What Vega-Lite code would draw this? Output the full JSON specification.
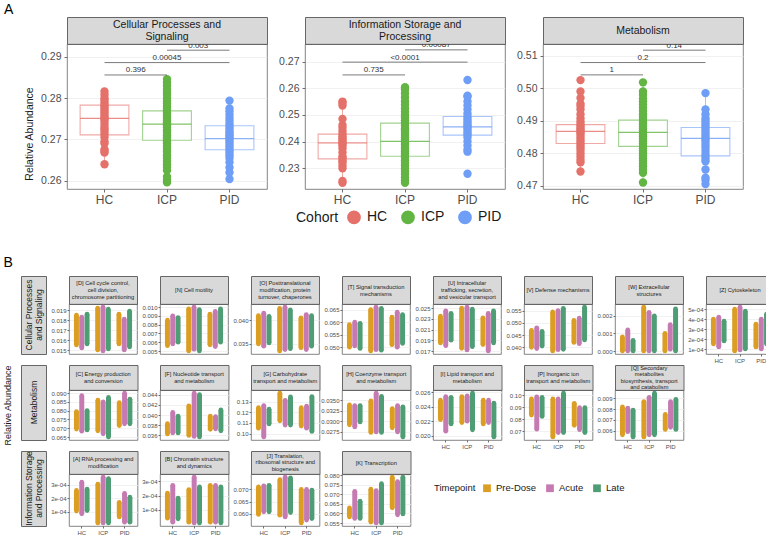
{
"$schema":"https://vega.github.io/schema/vega-lite/v6.json",
"padding":{"left":3,"top":2,"right":4,"bottom":2},
"spacing":49,
"config":{
 "font":"Liberation Sans",
 "view":{"stroke":"#666","strokeWidth":0.8},
 "axis":{"domain":false,"labelOverlap":false,"gridColor":"#EBEBEB","gridWidth":0.7,"tickColor":"#333","tickWidth":0.7,"labelColor":"#4D4D4D","titleFontWeight":"normal","titleColor":"#1A1A1A"},
 "title":{"fontWeight":"normal","color":"#000"}
},
"datasets":{
"abox":[
{"f":"CPS","c":"HC","lo":0.2640,"q1":0.2711,"med":0.2751,"q3":0.2783,"hi":0.2816},
{"f":"CPS","c":"ICP","lo":0.2596,"q1":0.2698,"med":0.2737,"q3":0.2769,"hi":0.2846},
{"f":"CPS","c":"PID","lo":0.2604,"q1":0.2675,"med":0.2702,"q3":0.2733,"hi":0.2794},
{"f":"ISP","c":"HC","lo":0.2245,"q1":0.2335,"med":0.2395,"q3":0.2428,"hi":0.2550},
{"f":"ISP","c":"ICP","lo":0.2245,"q1":0.2345,"med":0.2401,"q3":0.2469,"hi":0.2604},
{"f":"ISP","c":"PID","lo":0.2362,"q1":0.2424,"med":0.2455,"q3":0.2494,"hi":0.2572},
{"f":"MET","c":"HC","lo":0.4744,"q1":0.4830,"med":0.4867,"q3":0.4888,"hi":0.4970},
{"f":"MET","c":"ICP","lo":0.4710,"q1":0.4821,"med":0.4864,"q3":0.4902,"hi":0.5018},
{"f":"MET","c":"PID","lo":0.4705,"q1":0.4792,"med":0.4846,"q3":0.4879,"hi":0.4985}
],
"abr":[
{"f":"CPS","g1":"HC","g2":"ICP","y":0.2856,"lab":"0.396"},
{"f":"CPS","g1":"HC","g2":"PID","y":0.2886,"lab":"0.00045"},
{"f":"CPS","g1":"ICP","g2":"PID","y":0.2916,"lab":"0.003"},
{"f":"ISP","g1":"HC","g2":"ICP","y":0.2650,"lab":"0.735"},
{"f":"ISP","g1":"HC","g2":"PID","y":0.2698,"lab":"<0.0001"},
{"f":"ISP","g1":"ICP","g2":"PID","y":0.2744,"lab":"0.00087"},
{"f":"MET","g1":"HC","g2":"ICP","y":0.5041,"lab":"1"},
{"f":"MET","g1":"HC","g2":"PID","y":0.5079,"lab":"0.2"},
{"f":"MET","g1":"ICP","g2":"PID","y":0.5117,"lab":"0.14"}
],
"apts":[
{"f":"CPS","c":"HC","v":0.2640},{"f":"CPS","c":"HC","v":0.2668},{"f":"CPS","c":"HC","v":0.2672},{"f":"CPS","c":"HC","v":0.2676},{"f":"CPS","c":"HC","v":0.2690},{"f":"CPS","c":"HC","v":0.2695},{"f":"CPS","c":"HC","v":0.2705},{"f":"CPS","c":"HC","v":0.2712},{"f":"CPS","c":"HC","v":0.2718},{"f":"CPS","c":"HC","v":0.2724},{"f":"CPS","c":"HC","v":0.2728},{"f":"CPS","c":"HC","v":0.2735},{"f":"CPS","c":"HC","v":0.2742},{"f":"CPS","c":"HC","v":0.2748},{"f":"CPS","c":"HC","v":0.2751},{"f":"CPS","c":"HC","v":0.2755},{"f":"CPS","c":"HC","v":0.2760},{"f":"CPS","c":"HC","v":0.2765},{"f":"CPS","c":"HC","v":0.2770},{"f":"CPS","c":"HC","v":0.2775},{"f":"CPS","c":"HC","v":0.2780},{"f":"CPS","c":"HC","v":0.2784},{"f":"CPS","c":"HC","v":0.2790},{"f":"CPS","c":"HC","v":0.2796},{"f":"CPS","c":"HC","v":0.2800},{"f":"CPS","c":"HC","v":0.2808},{"f":"CPS","c":"HC","v":0.2816},
{"f":"CPS","c":"ICP","v":0.2596},{"f":"CPS","c":"ICP","v":0.2602},{"f":"CPS","c":"ICP","v":0.2610},{"f":"CPS","c":"ICP","v":0.2625},{"f":"CPS","c":"ICP","v":0.2633},{"f":"CPS","c":"ICP","v":0.2640},{"f":"CPS","c":"ICP","v":0.2648},{"f":"CPS","c":"ICP","v":0.2655},{"f":"CPS","c":"ICP","v":0.2662},{"f":"CPS","c":"ICP","v":0.2670},{"f":"CPS","c":"ICP","v":0.2677},{"f":"CPS","c":"ICP","v":0.2683},{"f":"CPS","c":"ICP","v":0.2690},{"f":"CPS","c":"ICP","v":0.2695},{"f":"CPS","c":"ICP","v":0.2700},{"f":"CPS","c":"ICP","v":0.2705},{"f":"CPS","c":"ICP","v":0.2710},{"f":"CPS","c":"ICP","v":0.2716},{"f":"CPS","c":"ICP","v":0.2722},{"f":"CPS","c":"ICP","v":0.2728},{"f":"CPS","c":"ICP","v":0.2733},{"f":"CPS","c":"ICP","v":0.2737},{"f":"CPS","c":"ICP","v":0.2741},{"f":"CPS","c":"ICP","v":0.2745},{"f":"CPS","c":"ICP","v":0.2750},{"f":"CPS","c":"ICP","v":0.2755},{"f":"CPS","c":"ICP","v":0.2760},{"f":"CPS","c":"ICP","v":0.2765},{"f":"CPS","c":"ICP","v":0.2770},{"f":"CPS","c":"ICP","v":0.2775},{"f":"CPS","c":"ICP","v":0.2780},{"f":"CPS","c":"ICP","v":0.2787},{"f":"CPS","c":"ICP","v":0.2793},{"f":"CPS","c":"ICP","v":0.2800},{"f":"CPS","c":"ICP","v":0.2808},{"f":"CPS","c":"ICP","v":0.2815},{"f":"CPS","c":"ICP","v":0.2822},{"f":"CPS","c":"ICP","v":0.2830},{"f":"CPS","c":"ICP","v":0.2838},{"f":"CPS","c":"ICP","v":0.2846},
{"f":"CPS","c":"PID","v":0.2604},{"f":"CPS","c":"PID","v":0.2620},{"f":"CPS","c":"PID","v":0.2632},{"f":"CPS","c":"PID","v":0.2645},{"f":"CPS","c":"PID","v":0.2655},{"f":"CPS","c":"PID","v":0.2662},{"f":"CPS","c":"PID","v":0.2668},{"f":"CPS","c":"PID","v":0.2674},{"f":"CPS","c":"PID","v":0.2680},{"f":"CPS","c":"PID","v":0.2686},{"f":"CPS","c":"PID","v":0.2692},{"f":"CPS","c":"PID","v":0.2697},{"f":"CPS","c":"PID","v":0.2702},{"f":"CPS","c":"PID","v":0.2706},{"f":"CPS","c":"PID","v":0.2710},{"f":"CPS","c":"PID","v":0.2715},{"f":"CPS","c":"PID","v":0.2720},{"f":"CPS","c":"PID","v":0.2726},{"f":"CPS","c":"PID","v":0.2732},{"f":"CPS","c":"PID","v":0.2738},{"f":"CPS","c":"PID","v":0.2745},{"f":"CPS","c":"PID","v":0.2752},{"f":"CPS","c":"PID","v":0.2760},{"f":"CPS","c":"PID","v":0.2768},{"f":"CPS","c":"PID","v":0.2775},{"f":"CPS","c":"PID","v":0.2794},
{"f":"ISP","c":"HC","v":0.2245},{"f":"ISP","c":"HC","v":0.2252},{"f":"ISP","c":"HC","v":0.2300},{"f":"ISP","c":"HC","v":0.2310},{"f":"ISP","c":"HC","v":0.2322},{"f":"ISP","c":"HC","v":0.2330},{"f":"ISP","c":"HC","v":0.2338},{"f":"ISP","c":"HC","v":0.2345},{"f":"ISP","c":"HC","v":0.2360},{"f":"ISP","c":"HC","v":0.2375},{"f":"ISP","c":"HC","v":0.2385},{"f":"ISP","c":"HC","v":0.2392},{"f":"ISP","c":"HC","v":0.2398},{"f":"ISP","c":"HC","v":0.2405},{"f":"ISP","c":"HC","v":0.2412},{"f":"ISP","c":"HC","v":0.2420},{"f":"ISP","c":"HC","v":0.2428},{"f":"ISP","c":"HC","v":0.2440},{"f":"ISP","c":"HC","v":0.2452},{"f":"ISP","c":"HC","v":0.2462},{"f":"ISP","c":"HC","v":0.2485},{"f":"ISP","c":"HC","v":0.2535},{"f":"ISP","c":"HC","v":0.2545},{"f":"ISP","c":"HC","v":0.2550},
{"f":"ISP","c":"ICP","v":0.2245},{"f":"ISP","c":"ICP","v":0.2255},{"f":"ISP","c":"ICP","v":0.2265},{"f":"ISP","c":"ICP","v":0.2278},{"f":"ISP","c":"ICP","v":0.2290},{"f":"ISP","c":"ICP","v":0.2300},{"f":"ISP","c":"ICP","v":0.2310},{"f":"ISP","c":"ICP","v":0.2320},{"f":"ISP","c":"ICP","v":0.2330},{"f":"ISP","c":"ICP","v":0.2340},{"f":"ISP","c":"ICP","v":0.2348},{"f":"ISP","c":"ICP","v":0.2356},{"f":"ISP","c":"ICP","v":0.2364},{"f":"ISP","c":"ICP","v":0.2372},{"f":"ISP","c":"ICP","v":0.2380},{"f":"ISP","c":"ICP","v":0.2388},{"f":"ISP","c":"ICP","v":0.2395},{"f":"ISP","c":"ICP","v":0.2401},{"f":"ISP","c":"ICP","v":0.2408},{"f":"ISP","c":"ICP","v":0.2416},{"f":"ISP","c":"ICP","v":0.2425},{"f":"ISP","c":"ICP","v":0.2433},{"f":"ISP","c":"ICP","v":0.2442},{"f":"ISP","c":"ICP","v":0.2450},{"f":"ISP","c":"ICP","v":0.2460},{"f":"ISP","c":"ICP","v":0.2470},{"f":"ISP","c":"ICP","v":0.2480},{"f":"ISP","c":"ICP","v":0.2490},{"f":"ISP","c":"ICP","v":0.2500},{"f":"ISP","c":"ICP","v":0.2512},{"f":"ISP","c":"ICP","v":0.2525},{"f":"ISP","c":"ICP","v":0.2538},{"f":"ISP","c":"ICP","v":0.2550},{"f":"ISP","c":"ICP","v":0.2565},{"f":"ISP","c":"ICP","v":0.2580},{"f":"ISP","c":"ICP","v":0.2595},{"f":"ISP","c":"ICP","v":0.2604},
{"f":"ISP","c":"PID","v":0.2279},{"f":"ISP","c":"PID","v":0.2362},{"f":"ISP","c":"PID","v":0.2370},{"f":"ISP","c":"PID","v":0.2385},{"f":"ISP","c":"PID","v":0.2400},{"f":"ISP","c":"PID","v":0.2415},{"f":"ISP","c":"PID","v":0.2425},{"f":"ISP","c":"PID","v":0.2432},{"f":"ISP","c":"PID","v":0.2440},{"f":"ISP","c":"PID","v":0.2448},{"f":"ISP","c":"PID","v":0.2455},{"f":"ISP","c":"PID","v":0.2460},{"f":"ISP","c":"PID","v":0.2468},{"f":"ISP","c":"PID","v":0.2476},{"f":"ISP","c":"PID","v":0.2485},{"f":"ISP","c":"PID","v":0.2494},{"f":"ISP","c":"PID","v":0.2505},{"f":"ISP","c":"PID","v":0.2520},{"f":"ISP","c":"PID","v":0.2535},{"f":"ISP","c":"PID","v":0.2550},{"f":"ISP","c":"PID","v":0.2568},{"f":"ISP","c":"PID","v":0.2572},{"f":"ISP","c":"PID","v":0.2631},
{"f":"MET","c":"HC","v":0.4744},{"f":"MET","c":"HC","v":0.4772},{"f":"MET","c":"HC","v":0.4780},{"f":"MET","c":"HC","v":0.4790},{"f":"MET","c":"HC","v":0.4800},{"f":"MET","c":"HC","v":0.4810},{"f":"MET","c":"HC","v":0.4818},{"f":"MET","c":"HC","v":0.4825},{"f":"MET","c":"HC","v":0.4832},{"f":"MET","c":"HC","v":0.4840},{"f":"MET","c":"HC","v":0.4848},{"f":"MET","c":"HC","v":0.4856},{"f":"MET","c":"HC","v":0.4862},{"f":"MET","c":"HC","v":0.4867},{"f":"MET","c":"HC","v":0.4872},{"f":"MET","c":"HC","v":0.4878},{"f":"MET","c":"HC","v":0.4884},{"f":"MET","c":"HC","v":0.4890},{"f":"MET","c":"HC","v":0.4898},{"f":"MET","c":"HC","v":0.4908},{"f":"MET","c":"HC","v":0.4920},{"f":"MET","c":"HC","v":0.4935},{"f":"MET","c":"HC","v":0.4945},{"f":"MET","c":"HC","v":0.4952},{"f":"MET","c":"HC","v":0.4970},{"f":"MET","c":"HC","v":0.4990},{"f":"MET","c":"HC","v":0.5025},
{"f":"MET","c":"ICP","v":0.4710},{"f":"MET","c":"ICP","v":0.4740},{"f":"MET","c":"ICP","v":0.4750},{"f":"MET","c":"ICP","v":0.4760},{"f":"MET","c":"ICP","v":0.4768},{"f":"MET","c":"ICP","v":0.4776},{"f":"MET","c":"ICP","v":0.4784},{"f":"MET","c":"ICP","v":0.4792},{"f":"MET","c":"ICP","v":0.4800},{"f":"MET","c":"ICP","v":0.4808},{"f":"MET","c":"ICP","v":0.4815},{"f":"MET","c":"ICP","v":0.4822},{"f":"MET","c":"ICP","v":0.4830},{"f":"MET","c":"ICP","v":0.4838},{"f":"MET","c":"ICP","v":0.4845},{"f":"MET","c":"ICP","v":0.4852},{"f":"MET","c":"ICP","v":0.4858},{"f":"MET","c":"ICP","v":0.4864},{"f":"MET","c":"ICP","v":0.4870},{"f":"MET","c":"ICP","v":0.4876},{"f":"MET","c":"ICP","v":0.4882},{"f":"MET","c":"ICP","v":0.4890},{"f":"MET","c":"ICP","v":0.4897},{"f":"MET","c":"ICP","v":0.4905},{"f":"MET","c":"ICP","v":0.4912},{"f":"MET","c":"ICP","v":0.4920},{"f":"MET","c":"ICP","v":0.4930},{"f":"MET","c":"ICP","v":0.4940},{"f":"MET","c":"ICP","v":0.4950},{"f":"MET","c":"ICP","v":0.4960},{"f":"MET","c":"ICP","v":0.4968},{"f":"MET","c":"ICP","v":0.4980},{"f":"MET","c":"ICP","v":0.4990},{"f":"MET","c":"ICP","v":0.5018},
{"f":"MET","c":"PID","v":0.4705},{"f":"MET","c":"PID","v":0.4718},{"f":"MET","c":"PID","v":0.4725},{"f":"MET","c":"PID","v":0.4750},{"f":"MET","c":"PID","v":0.4775},{"f":"MET","c":"PID","v":0.4782},{"f":"MET","c":"PID","v":0.4790},{"f":"MET","c":"PID","v":0.4798},{"f":"MET","c":"PID","v":0.4808},{"f":"MET","c":"PID","v":0.4818},{"f":"MET","c":"PID","v":0.4826},{"f":"MET","c":"PID","v":0.4835},{"f":"MET","c":"PID","v":0.4842},{"f":"MET","c":"PID","v":0.4848},{"f":"MET","c":"PID","v":0.4855},{"f":"MET","c":"PID","v":0.4862},{"f":"MET","c":"PID","v":0.4870},{"f":"MET","c":"PID","v":0.4878},{"f":"MET","c":"PID","v":0.4885},{"f":"MET","c":"PID","v":0.4892},{"f":"MET","c":"PID","v":0.4900},{"f":"MET","c":"PID","v":0.4908},{"f":"MET","c":"PID","v":0.4920},{"f":"MET","c":"PID","v":0.4935},{"f":"MET","c":"PID","v":0.4985}
],
"b":[
{"p":"D","c":"HC","t":"Pre-Dose","lo":0.0155,"hi":0.0185},{"p":"D","c":"HC","t":"Acute","lo":0.0152,"hi":0.0183},{"p":"D","c":"HC","t":"Late","lo":0.0156,"hi":0.0186},
{"p":"D","c":"ICP","t":"Pre-Dose","lo":0.0150,"hi":0.0192},{"p":"D","c":"ICP","t":"Acute","lo":0.0149,"hi":0.0193},{"p":"D","c":"ICP","t":"Late","lo":0.0151,"hi":0.0191},
{"p":"D","c":"PID","t":"Pre-Dose","lo":0.0156,"hi":0.0186},{"p":"D","c":"PID","t":"Acute","lo":0.0150,"hi":0.0181},{"p":"D","c":"PID","t":"Late","lo":0.0153,"hi":0.0189},
{"p":"N","c":"HC","t":"Pre-Dose","lo":0.0056,"hi":0.0085},{"p":"N","c":"HC","t":"Acute","lo":0.0058,"hi":0.0090},{"p":"N","c":"HC","t":"Late","lo":0.0060,"hi":0.0088},
{"p":"N","c":"ICP","t":"Pre-Dose","lo":0.0050,"hi":0.0098},{"p":"N","c":"ICP","t":"Acute","lo":0.0052,"hi":0.0100},{"p":"N","c":"ICP","t":"Late","lo":0.0050,"hi":0.0097},
{"p":"N","c":"PID","t":"Pre-Dose","lo":0.0057,"hi":0.0092},{"p":"N","c":"PID","t":"Acute","lo":0.0055,"hi":0.0095},{"p":"N","c":"PID","t":"Late","lo":0.0060,"hi":0.0098},
{"p":"O","c":"HC","t":"Pre-Dose","lo":0.0350,"hi":0.0410},{"p":"O","c":"HC","t":"Acute","lo":0.0345,"hi":0.0415},{"p":"O","c":"HC","t":"Late","lo":0.0352,"hi":0.0408},
{"p":"O","c":"ICP","t":"Pre-Dose","lo":0.0335,"hi":0.0425},{"p":"O","c":"ICP","t":"Acute","lo":0.0338,"hi":0.0428},{"p":"O","c":"ICP","t":"Late","lo":0.0340,"hi":0.0422},
{"p":"O","c":"PID","t":"Pre-Dose","lo":0.0342,"hi":0.0405},{"p":"O","c":"PID","t":"Acute","lo":0.0338,"hi":0.0412},{"p":"O","c":"PID","t":"Late","lo":0.0345,"hi":0.0410},
{"p":"T","c":"HC","t":"Pre-Dose","lo":0.0500,"hi":0.0590},{"p":"T","c":"HC","t":"Acute","lo":0.0505,"hi":0.0600},{"p":"T","c":"HC","t":"Late","lo":0.0495,"hi":0.0595},
{"p":"T","c":"ICP","t":"Pre-Dose","lo":0.0485,"hi":0.0650},{"p":"T","c":"ICP","t":"Acute","lo":0.0490,"hi":0.0660},{"p":"T","c":"ICP","t":"Late","lo":0.0488,"hi":0.0655},
{"p":"T","c":"PID","t":"Pre-Dose","lo":0.0510,"hi":0.0620},{"p":"T","c":"PID","t":"Acute","lo":0.0500,"hi":0.0640},{"p":"T","c":"PID","t":"Late","lo":0.0515,"hi":0.0630},
{"p":"U","c":"HC","t":"Pre-Dose","lo":0.0185,"hi":0.0235},{"p":"U","c":"HC","t":"Acute","lo":0.0180,"hi":0.0245},{"p":"U","c":"HC","t":"Late","lo":0.0190,"hi":0.0240},
{"p":"U","c":"ICP","t":"Pre-Dose","lo":0.0175,"hi":0.0250},{"p":"U","c":"ICP","t":"Acute","lo":0.0172,"hi":0.0252},{"p":"U","c":"ICP","t":"Late","lo":0.0178,"hi":0.0248},
{"p":"U","c":"PID","t":"Pre-Dose","lo":0.0182,"hi":0.0232},{"p":"U","c":"PID","t":"Acute","lo":0.0170,"hi":0.0240},{"p":"U","c":"PID","t":"Late","lo":0.0185,"hi":0.0245},
{"p":"V","c":"HC","t":"Pre-Dose","lo":0.0400,"hi":0.0470},{"p":"V","c":"HC","t":"Acute","lo":0.0395,"hi":0.0480},{"p":"V","c":"HC","t":"Late","lo":0.0405,"hi":0.0465},
{"p":"V","c":"ICP","t":"Pre-Dose","lo":0.0385,"hi":0.0545},{"p":"V","c":"ICP","t":"Acute","lo":0.0390,"hi":0.0550},{"p":"V","c":"ICP","t":"Late","lo":0.0392,"hi":0.0560},
{"p":"V","c":"PID","t":"Pre-Dose","lo":0.0420,"hi":0.0510},{"p":"V","c":"PID","t":"Acute","lo":0.0415,"hi":0.0520},{"p":"V","c":"PID","t":"Late","lo":0.0430,"hi":0.0565},
{"p":"W","c":"HC","t":"Pre-Dose","lo":0.0000,"hi":0.0008},{"p":"W","c":"HC","t":"Acute","lo":0.0000,"hi":0.0012},{"p":"W","c":"HC","t":"Late","lo":0.0000,"hi":0.0006},
{"p":"W","c":"ICP","t":"Pre-Dose","lo":0.0000,"hi":0.0025},{"p":"W","c":"ICP","t":"Acute","lo":0.0000,"hi":0.0022},{"p":"W","c":"ICP","t":"Late","lo":0.0000,"hi":0.0020},
{"p":"W","c":"PID","t":"Pre-Dose","lo":0.0000,"hi":0.0010},{"p":"W","c":"PID","t":"Acute","lo":0.0001,"hi":0.0015},{"p":"W","c":"PID","t":"Late","lo":0.0000,"hi":0.0024},
{"p":"Z","c":"HC","t":"Pre-Dose","lo":0.00015,"hi":0.00040},{"p":"Z","c":"HC","t":"Acute","lo":0.00012,"hi":0.00042},{"p":"Z","c":"HC","t":"Late","lo":0.00018,"hi":0.00038},
{"p":"Z","c":"ICP","t":"Pre-Dose","lo":0.00008,"hi":0.00050},{"p":"Z","c":"ICP","t":"Acute","lo":0.00009,"hi":0.00052},{"p":"Z","c":"ICP","t":"Late","lo":0.00010,"hi":0.00048},
{"p":"Z","c":"PID","t":"Pre-Dose","lo":0.00012,"hi":0.00035},{"p":"Z","c":"PID","t":"Acute","lo":0.00010,"hi":0.00040},{"p":"Z","c":"PID","t":"Late","lo":0.00015,"hi":0.00045},
{"p":"C","c":"HC","t":"Pre-Dose","lo":0.0695,"hi":0.0795},{"p":"C","c":"HC","t":"Acute","lo":0.0683,"hi":0.0885},{"p":"C","c":"HC","t":"Late","lo":0.0690,"hi":0.0800},
{"p":"C","c":"ICP","t":"Pre-Dose","lo":0.0685,"hi":0.0860},{"p":"C","c":"ICP","t":"Acute","lo":0.0668,"hi":0.0850},{"p":"C","c":"ICP","t":"Late","lo":0.0650,"hi":0.0875},
{"p":"C","c":"PID","t":"Pre-Dose","lo":0.0715,"hi":0.0845},{"p":"C","c":"PID","t":"Acute","lo":0.0725,"hi":0.0900},{"p":"C","c":"PID","t":"Late","lo":0.0725,"hi":0.0865},
{"p":"F","c":"HC","t":"Pre-Dose","lo":0.0363,"hi":0.0383},{"p":"F","c":"HC","t":"Acute","lo":0.0365,"hi":0.0405},{"p":"F","c":"HC","t":"Late","lo":0.0365,"hi":0.0398},
{"p":"F","c":"ICP","t":"Pre-Dose","lo":0.0360,"hi":0.0418},{"p":"F","c":"ICP","t":"Acute","lo":0.0358,"hi":0.0443},{"p":"F","c":"ICP","t":"Late","lo":0.0357,"hi":0.0440},
{"p":"F","c":"PID","t":"Pre-Dose","lo":0.0372,"hi":0.0398},{"p":"F","c":"PID","t":"Acute","lo":0.0373,"hi":0.0397},{"p":"F","c":"PID","t":"Late","lo":0.0369,"hi":0.0410},
{"p":"G","c":"HC","t":"Pre-Dose","lo":0.105,"hi":0.1244},{"p":"G","c":"HC","t":"Acute","lo":0.0967,"hi":0.1264},{"p":"G","c":"HC","t":"Late","lo":0.109,"hi":0.123},
{"p":"G","c":"ICP","t":"Pre-Dose","lo":0.112,"hi":0.1383},{"p":"G","c":"ICP","t":"Acute","lo":0.108,"hi":0.1314},{"p":"G","c":"ICP","t":"Late","lo":0.108,"hi":0.1347},
{"p":"G","c":"PID","t":"Pre-Dose","lo":0.107,"hi":0.1244},{"p":"G","c":"PID","t":"Acute","lo":0.105,"hi":0.126},{"p":"G","c":"PID","t":"Late","lo":0.102,"hi":0.135},
{"p":"H","c":"HC","t":"Pre-Dose","lo":0.0291,"hi":0.0339},{"p":"H","c":"HC","t":"Acute","lo":0.0286,"hi":0.0337},{"p":"H","c":"HC","t":"Late","lo":0.0298,"hi":0.0337},
{"p":"H","c":"ICP","t":"Pre-Dose","lo":0.0273,"hi":0.0348},{"p":"H","c":"ICP","t":"Acute","lo":0.0274,"hi":0.0367},{"p":"H","c":"ICP","t":"Late","lo":0.0273,"hi":0.0359},
{"p":"H","c":"PID","t":"Pre-Dose","lo":0.0284,"hi":0.0330},{"p":"H","c":"PID","t":"Acute","lo":0.0274,"hi":0.0337},{"p":"H","c":"PID","t":"Late","lo":0.0262,"hi":0.0334},
{"p":"I","c":"HC","t":"Pre-Dose","lo":0.0222,"hi":0.0249},{"p":"I","c":"HC","t":"Acute","lo":0.0206,"hi":0.0254},{"p":"I","c":"HC","t":"Late","lo":0.0216,"hi":0.0253},
{"p":"I","c":"ICP","t":"Pre-Dose","lo":0.0218,"hi":0.0254},{"p":"I","c":"ICP","t":"Acute","lo":0.0220,"hi":0.0255},{"p":"I","c":"ICP","t":"Late","lo":0.0208,"hi":0.0259},
{"p":"I","c":"PID","t":"Pre-Dose","lo":0.0216,"hi":0.0249},{"p":"I","c":"PID","t":"Acute","lo":0.0218,"hi":0.0249},{"p":"I","c":"PID","t":"Late","lo":0.0198,"hi":0.0245},
{"p":"P","c":"HC","t":"Pre-Dose","lo":0.0835,"hi":0.0970},{"p":"P","c":"HC","t":"Acute","lo":0.0717,"hi":0.0988},{"p":"P","c":"HC","t":"Late","lo":0.0823,"hi":0.0983},
{"p":"P","c":"ICP","t":"Pre-Dose","lo":0.0651,"hi":0.0970},{"p":"P","c":"ICP","t":"Acute","lo":0.0688,"hi":0.0970},{"p":"P","c":"ICP","t":"Late","lo":0.0688,"hi":0.1020},
{"p":"P","c":"PID","t":"Pre-Dose","lo":0.0749,"hi":0.0934},{"p":"P","c":"PID","t":"Acute","lo":0.0712,"hi":0.0897},{"p":"P","c":"PID","t":"Late","lo":0.0688,"hi":0.0897},
{"p":"Q","c":"HC","t":"Pre-Dose","lo":0.0056,"hi":0.0082},{"p":"Q","c":"HC","t":"Acute","lo":0.0059,"hi":0.0081},{"p":"Q","c":"HC","t":"Late","lo":0.0054,"hi":0.0079},
{"p":"Q","c":"ICP","t":"Pre-Dose","lo":0.0054,"hi":0.0087},{"p":"Q","c":"ICP","t":"Acute","lo":0.0056,"hi":0.0091},{"p":"Q","c":"ICP","t":"Late","lo":0.0056,"hi":0.0095},
{"p":"Q","c":"PID","t":"Pre-Dose","lo":0.0061,"hi":0.0075},{"p":"Q","c":"PID","t":"Acute","lo":0.0063,"hi":0.0087},{"p":"Q","c":"PID","t":"Late","lo":0.0061,"hi":0.0089},
{"p":"A","c":"HC","t":"Pre-Dose","lo":0.000106,"hi":0.000259},{"p":"A","c":"HC","t":"Acute","lo":0.000086,"hi":0.000320},{"p":"A","c":"HC","t":"Late","lo":0.000110,"hi":0.000269},
{"p":"A","c":"ICP","t":"Pre-Dose","lo":0.000018,"hi":0.000306},{"p":"A","c":"ICP","t":"Acute","lo":0.000018,"hi":0.000358},{"p":"A","c":"ICP","t":"Late","lo":0.000018,"hi":0.000347},
{"p":"A","c":"PID","t":"Pre-Dose","lo":0.000063,"hi":0.000171},{"p":"A","c":"PID","t":"Acute","lo":0.000024,"hi":0.000238},{"p":"A","c":"PID","t":"Late","lo":0.000024,"hi":0.000209},
{"p":"B","c":"HC","t":"Pre-Dose","lo":0.000042,"hi":0.000217},{"p":"B","c":"HC","t":"Acute","lo":0.000015,"hi":0.000271},{"p":"B","c":"HC","t":"Late","lo":0.000038,"hi":0.000183},
{"p":"B","c":"ICP","t":"Pre-Dose","lo":0.000015,"hi":0.000242},{"p":"B","c":"ICP","t":"Acute","lo":0.000009,"hi":0.000329},{"p":"B","c":"ICP","t":"Late","lo":0.000009,"hi":0.000261},
{"p":"B","c":"PID","t":"Pre-Dose","lo":0.000015,"hi":0.000271},{"p":"B","c":"PID","t":"Acute","lo":0.000015,"hi":0.000271},{"p":"B","c":"PID","t":"Late","lo":0.000009,"hi":0.000261},
{"p":"J","c":"HC","t":"Pre-Dose","lo":0.0597,"hi":0.0711},{"p":"J","c":"HC","t":"Acute","lo":0.0608,"hi":0.0715},{"p":"J","c":"HC","t":"Late","lo":0.0608,"hi":0.0717},
{"p":"J","c":"ICP","t":"Pre-Dose","lo":0.0594,"hi":0.0740},{"p":"J","c":"ICP","t":"Acute","lo":0.0587,"hi":0.0751},{"p":"J","c":"ICP","t":"Late","lo":0.0605,"hi":0.0748},
{"p":"J","c":"PID","t":"Pre-Dose","lo":0.0562,"hi":0.0700},{"p":"J","c":"PID","t":"Acute","lo":0.0574,"hi":0.0700},{"p":"J","c":"PID","t":"Late","lo":0.0580,"hi":0.0697},
{"p":"K","c":"HC","t":"Pre-Dose","lo":0.0582,"hi":0.0630},{"p":"K","c":"HC","t":"Acute","lo":0.0574,"hi":0.0717},{"p":"K","c":"HC","t":"Late","lo":0.0574,"hi":0.0665},
{"p":"K","c":"ICP","t":"Pre-Dose","lo":0.0555,"hi":0.0728},{"p":"K","c":"ICP","t":"Acute","lo":0.0550,"hi":0.0720},{"p":"K","c":"ICP","t":"Late","lo":0.0550,"hi":0.0757},
{"p":"K","c":"PID","t":"Pre-Dose","lo":0.0630,"hi":0.0792},{"p":"K","c":"PID","t":"Acute","lo":0.0593,"hi":0.0768},{"p":"K","c":"PID","t":"Late","lo":0.0598,"hi":0.0792}
]
},
"vconcat":[
{
 "title":{"text":"A","anchor":"start","frame":"bounds","fontSize":14,"dx":-17,"offset":0},
 "spacing":3,
 "hconcat":[
  {"width":13,"height":172,"data":{"values":[{"s":"Relative Abundance"}]},"mark":{"type":"text","angle":270,"fontSize":10.5,"dx":-31,"dy":2,"color":"#1A1A1A"},"encoding":{"text":{"field":"s","type":"nominal"}},"view":{"stroke":null}},
  {"bounds":"flush","spacing":0,"vconcat":[
   {"width":200,"height":27,"data":{"values":[{"s":"Cellular Processes and\nSignaling"}]},"mark":{"type":"text","fontSize":10.5,"lineBreak":"\n","lineHeight":12,"dy":-6,"color":"#1A1A1A"},"encoding":{"text":{"field":"s","type":"nominal"}},"view":{"fill":"#D9D9D9","stroke":"#666"}},
   {"width":200,"height":145,
    "encoding":{"x":{"field":"c","type":"nominal","scale":{"domain":["HC","ICP","PID"],"paddingInner":0,"paddingOuter":0.1},"axis":{"title":null,"labelAngle":0,"labelFontSize":12,"tickSize":3,"labelPadding":2}}},
    "layer":[
     {"data":{"name":"abox"},"transform":[{"filter":"datum.f=='CPS'"}],"mark":{"type":"rule","strokeOpacity":0.6},"encoding":{"y":{"field":"lo","type":"quantitative","scale":{"domain":[0.258,0.2931],"nice":false,"zero":false},"axis":{"title":null,"values":[0.26,0.27,0.28,0.29],"format":".2f","labelOverlap":false,"tickCount":20,"labelFontSize":10.5,"tickSize":3,"labelPadding":3,"minExtent":27,"maxExtent":27}},"y2":{"field":"hi"},"stroke":{"field":"c","type":"nominal","scale":{"domain":["HC","ICP","PID"],"range":["#E4716A","#62B443","#6E9EF6"]}}}},
     {"data":{"name":"abox"},"transform":[{"filter":"datum.f=='CPS'"}],"mark":{"type":"bar","fill":"white","strokeOpacity":0.6,"strokeWidth":1.1,"width":{"band":0.78}},"encoding":{"y":{"field":"q1","type":"quantitative"},"y2":{"field":"q3"},"stroke":{"field":"c","type":"nominal"}}},
     {"data":{"name":"abox"},"transform":[{"filter":"datum.f=='CPS'"}],"mark":{"type":"bar","fill":"white","strokeOpacity":0.8,"strokeWidth":1.3,"width":{"band":0.78}},"encoding":{"y":{"field":"med","type":"quantitative"},"y2":{"field":"med"},"stroke":{"field":"c","type":"nominal"}}},
     {"data":{"name":"apts"},"transform":[{"filter":"datum.f=='CPS'"}],"mark":{"type":"circle","size":70,"opacity":1},"encoding":{"y":{"field":"v","type":"quantitative"},"color":{"field":"c","type":"nominal","scale":{"domain":["HC","ICP","PID"],"range":["#E4716A","#62B443","#6E9EF6"]},"legend":{"title":"Cohort","orient":"none","legendX":275,"legendY":193,"direction":"horizontal","titleOrient":"left","titleFontSize":14,"titleFontWeight":"normal","labelFontSize":14,"symbolType":"circle","symbolSize":150,"symbolOpacity":1,"titleColor":"#1A1A1A","labelColor":"#1A1A1A","columnPadding":10,"titlePadding":8,"labelOffset":6}}}},
     {"data":{"name":"abr"},"transform":[{"filter":"datum.f=='CPS'"}],"mark":{"type":"rule","color":"#595959","strokeWidth":0.8},"encoding":{"x":{"field":"g1","type":"nominal"},"x2":{"field":"g2"},"y":{"field":"y","type":"quantitative"}}},
     {"data":{"name":"abr"},"transform":[{"filter":"datum.f=='CPS' && !(datum.g1=='HC' && datum.g2=='PID')"}],"mark":{"type":"text","dx":31.25,"dy":-0.5,"baseline":"bottom","fontSize":8,"color":"#333","clip":true},"encoding":{"x":{"field":"g1","type":"nominal"},"y":{"field":"y","type":"quantitative"},"text":{"field":"lab","type":"nominal"}}},
     {"data":{"name":"abr"},"transform":[{"filter":"datum.f=='CPS' && datum.g1=='HC' && datum.g2=='PID'"}],"mark":{"type":"text","dx":62.5,"dy":-0.5,"baseline":"bottom","fontSize":8,"color":"#333","clip":true},"encoding":{"x":{"field":"g1","type":"nominal"},"y":{"field":"y","type":"quantitative"},"text":{"field":"lab","type":"nominal"}}}
    ]}
  ]},
  {"bounds":"flush","spacing":0,"vconcat":[
   {"width":200,"height":27,"data":{"values":[{"s":"Information Storage and\nProcessing"}]},"mark":{"type":"text","fontSize":10.5,"lineBreak":"\n","lineHeight":12,"dy":-6,"color":"#1A1A1A"},"encoding":{"text":{"field":"s","type":"nominal"}},"view":{"fill":"#D9D9D9","stroke":"#666"}},
   {"width":200,"height":145,
    "encoding":{"x":{"field":"c","type":"nominal","scale":{"domain":["HC","ICP","PID"],"paddingInner":0,"paddingOuter":0.1},"axis":{"title":null,"labelAngle":0,"labelFontSize":12,"tickSize":3,"labelPadding":2}}},
    "layer":[
     {"data":{"name":"abox"},"transform":[{"filter":"datum.f=='ISP'"}],"mark":{"type":"rule","strokeOpacity":0.6},"encoding":{"y":{"field":"lo","type":"quantitative","scale":{"domain":[0.2222,0.2766],"nice":false,"zero":false},"axis":{"title":null,"values":[0.23,0.24,0.25,0.26,0.27],"format":".2f","labelOverlap":false,"tickCount":20,"labelFontSize":10.5,"tickSize":3,"labelPadding":3,"minExtent":33.5,"maxExtent":33.5}},"y2":{"field":"hi"},"stroke":{"field":"c","type":"nominal"}}},
     {"data":{"name":"abox"},"transform":[{"filter":"datum.f=='ISP'"}],"mark":{"type":"bar","fill":"white","strokeOpacity":0.6,"strokeWidth":1.1,"width":{"band":0.78}},"encoding":{"y":{"field":"q1","type":"quantitative"},"y2":{"field":"q3"},"stroke":{"field":"c","type":"nominal"}}},
     {"data":{"name":"abox"},"transform":[{"filter":"datum.f=='ISP'"}],"mark":{"type":"bar","fill":"white","strokeOpacity":0.8,"strokeWidth":1.3,"width":{"band":0.78}},"encoding":{"y":{"field":"med","type":"quantitative"},"y2":{"field":"med"},"stroke":{"field":"c","type":"nominal"}}},
     {"data":{"name":"apts"},"transform":[{"filter":"datum.f=='ISP'"}],"mark":{"type":"circle","size":70,"opacity":1},"encoding":{"y":{"field":"v","type":"quantitative"},"color":{"field":"c","type":"nominal"}}},
     {"data":{"name":"abr"},"transform":[{"filter":"datum.f=='ISP'"}],"mark":{"type":"rule","color":"#595959","strokeWidth":0.8},"encoding":{"x":{"field":"g1","type":"nominal"},"x2":{"field":"g2"},"y":{"field":"y","type":"quantitative"}}},
     {"data":{"name":"abr"},"transform":[{"filter":"datum.f=='ISP' && !(datum.g1=='HC' && datum.g2=='PID')"}],"mark":{"type":"text","dx":31.25,"dy":-0.5,"baseline":"bottom","fontSize":8,"color":"#333","clip":true},"encoding":{"x":{"field":"g1","type":"nominal"},"y":{"field":"y","type":"quantitative"},"text":{"field":"lab","type":"nominal"}}},
     {"data":{"name":"abr"},"transform":[{"filter":"datum.f=='ISP' && datum.g1=='HC' && datum.g2=='PID'"}],"mark":{"type":"text","dx":62.5,"dy":-0.5,"baseline":"bottom","fontSize":8,"color":"#333","clip":true},"encoding":{"x":{"field":"g1","type":"nominal"},"y":{"field":"y","type":"quantitative"},"text":{"field":"lab","type":"nominal"}}}
    ]}
  ]},
  {"bounds":"flush","spacing":0,"vconcat":[
   {"width":200,"height":27,"data":{"values":[{"s":"Metabolism"}]},"mark":{"type":"text","fontSize":10.5,"color":"#1A1A1A"},"encoding":{"text":{"field":"s","type":"nominal"}},"view":{"fill":"#D9D9D9","stroke":"#666"}},
   {"width":200,"height":145,
    "encoding":{"x":{"field":"c","type":"nominal","scale":{"domain":["HC","ICP","PID"],"paddingInner":0,"paddingOuter":0.1},"axis":{"title":null,"labelAngle":0,"labelFontSize":12,"tickSize":3,"labelPadding":2}}},
    "layer":[
     {"data":{"name":"abox"},"transform":[{"filter":"datum.f=='MET'"}],"mark":{"type":"rule","strokeOpacity":0.6},"encoding":{"y":{"field":"lo","type":"quantitative","scale":{"domain":[0.469,0.5136],"nice":false,"zero":false},"axis":{"title":null,"values":[0.47,0.48,0.49,0.50,0.51],"format":".2f","labelOverlap":false,"tickCount":20,"labelFontSize":10.5,"tickSize":3,"labelPadding":3,"minExtent":33.5,"maxExtent":33.5}},"y2":{"field":"hi"},"stroke":{"field":"c","type":"nominal"}}},
     {"data":{"name":"abox"},"transform":[{"filter":"datum.f=='MET'"}],"mark":{"type":"bar","fill":"white","strokeOpacity":0.6,"strokeWidth":1.1,"width":{"band":0.78}},"encoding":{"y":{"field":"q1","type":"quantitative"},"y2":{"field":"q3"},"stroke":{"field":"c","type":"nominal"}}},
     {"data":{"name":"abox"},"transform":[{"filter":"datum.f=='MET'"}],"mark":{"type":"bar","fill":"white","strokeOpacity":0.8,"strokeWidth":1.3,"width":{"band":0.78}},"encoding":{"y":{"field":"med","type":"quantitative"},"y2":{"field":"med"},"stroke":{"field":"c","type":"nominal"}}},
     {"data":{"name":"apts"},"transform":[{"filter":"datum.f=='MET'"}],"mark":{"type":"circle","size":70,"opacity":1},"encoding":{"y":{"field":"v","type":"quantitative"},"color":{"field":"c","type":"nominal"}}},
     {"data":{"name":"abr"},"transform":[{"filter":"datum.f=='MET'"}],"mark":{"type":"rule","color":"#595959","strokeWidth":0.8},"encoding":{"x":{"field":"g1","type":"nominal"},"x2":{"field":"g2"},"y":{"field":"y","type":"quantitative"}}},
     {"data":{"name":"abr"},"transform":[{"filter":"datum.f=='MET' && !(datum.g1=='HC' && datum.g2=='PID')"}],"mark":{"type":"text","dx":31.25,"dy":-0.5,"baseline":"bottom","fontSize":8,"color":"#333","clip":true},"encoding":{"x":{"field":"g1","type":"nominal"},"y":{"field":"y","type":"quantitative"},"text":{"field":"lab","type":"nominal"}}},
     {"data":{"name":"abr"},"transform":[{"filter":"datum.f=='MET' && datum.g1=='HC' && datum.g2=='PID'"}],"mark":{"type":"text","dx":62.5,"dy":-0.5,"baseline":"bottom","fontSize":8,"color":"#333","clip":true},"encoding":{"x":{"field":"g1","type":"nominal"},"y":{"field":"y","type":"quantitative"},"text":{"field":"lab","type":"nominal"}}}
    ]}
  ]}
 ]
},
{
 "title":{"text":"B","anchor":"start","frame":"bounds","fontSize":14,"offset":6},
 "spacing":0,
 "vconcat":[{
  "title":{"text":"Relative Abundance","orient":"left","anchor":"middle","fontSize":9,"offset":8,"color":"#1A1A1A"},
  "spacing":0,
  "vconcat":[
   {"spacing":0,"hconcat":[
    {"width":25,"height":78,"data":{"values":[{"s":"Cellular Processes\nand Signaling"}]},"mark":{"type":"text","angle":270,"fontSize":8.5,"lineBreak":"\n","lineHeight":10,"dy":-5,"color":"#1A1A1A"},"encoding":{"text":{"field":"s","type":"nominal"}},"view":{"fill":"#D9D9D9","stroke":"#666"}},
    {"bounds":"flush","spacing":0,"vconcat":[
     {"width":68,"height":28,"data":{"values":[{"s":"[D] Cell cycle control,\ncell division,\nchromosome partitioning"}]},"mark":{"type":"text","fontSize":5.7,"lineBreak":"\n","lineHeight":7,"dy":-7,"color":"#1A1A1A"},"encoding":{"text":{"field":"s","type":"nominal"}},"view":{"fill":"#D9D9D9","stroke":"#666"}},
     {"width":68,"height":50,"data":{"name":"b"},"transform":[{"filter":"datum.p=='D'"}],
      "encoding":{"x":{"field":"c","type":"nominal","scale":{"domain":["HC","ICP","PID"],"paddingInner":0,"paddingOuter":0.1},"axis":{"title":null,"labels":false,"ticks":false}},"xOffset":{"field":"t","type":"nominal","scale":{"domain":["Pre-Dose","Acute","Late"],"paddingInner":0,"paddingOuter":0.5}}},
      "layer":[
       {"mark":{"type":"bar","width":5},"encoding":{"y":{"field":"lo","type":"quantitative","scale":{"zero":false,"nice":false,"padding":3},"axis":{"title":null,"values":[0.015,0.016,0.017,0.018,0.019],"format":".3f","labelOverlap":false,"tickCount":20,"labelFontSize":6,"tickSize":2,"labelPadding":1,"minExtent":21.5,"maxExtent":21.5}},"y2":{"field":"hi"},"fill":{"field":"t","type":"nominal","scale":{"domain":["Pre-Dose","Acute","Late"],"range":["#DB9E22","#C57AB1","#4F9D74"]},"legend":{"title":"Timepoint","orient":"none","legendX":413,"legendY":466,"direction":"horizontal","titleOrient":"left","titleFontSize":9.5,"titleFontWeight":"normal","labelFontSize":9.5,"symbolType":"square","symbolSize":60,"titleColor":"#1A1A1A","labelColor":"#1A1A1A","titlePadding":6,"columnPadding":8,"labelOffset":4}}}},
       {"mark":{"type":"circle","size":22,"opacity":1},"encoding":{"y":{"field":"lo","type":"quantitative"},"fill":{"field":"t","type":"nominal"}}},
       {"mark":{"type":"circle","size":22,"opacity":1},"encoding":{"y":{"field":"hi","type":"quantitative"},"fill":{"field":"t","type":"nominal"}}}
      ]}
    ]},
    {"bounds":"flush","spacing":0,"vconcat":[
     {"width":68,"height":28,"data":{"values":[{"s":"[N] Cell motility"}]},"mark":{"type":"text","fontSize":5.7,"color":"#1A1A1A"},"encoding":{"text":{"field":"s","type":"nominal"}},"view":{"fill":"#D9D9D9","stroke":"#666"}},
     {"width":68,"height":50,"data":{"name":"b"},"transform":[{"filter":"datum.p=='N'"}],
      "encoding":{"x":{"field":"c","type":"nominal","scale":{"domain":["HC","ICP","PID"],"paddingInner":0,"paddingOuter":0.1},"axis":{"title":null,"labels":false,"ticks":false}},"xOffset":{"field":"t","type":"nominal","scale":{"domain":["Pre-Dose","Acute","Late"],"paddingInner":0,"paddingOuter":0.5}}},
      "layer":[
       {"mark":{"type":"bar","width":5},"encoding":{"y":{"field":"lo","type":"quantitative","scale":{"zero":false,"nice":false,"padding":3},"axis":{"title":null,"values":[0.005,0.006,0.007,0.008,0.009,0.010],"format":".3f","labelOverlap":false,"tickCount":20,"labelFontSize":6,"tickSize":2,"labelPadding":1,"minExtent":21.5,"maxExtent":21.5}},"y2":{"field":"hi"},"fill":{"field":"t","type":"nominal"}}},
       {"mark":{"type":"circle","size":22,"opacity":1},"encoding":{"y":{"field":"lo","type":"quantitative"},"fill":{"field":"t","type":"nominal"}}},
       {"mark":{"type":"circle","size":22,"opacity":1},"encoding":{"y":{"field":"hi","type":"quantitative"},"fill":{"field":"t","type":"nominal"}}}
      ]}
    ]},
    {"bounds":"flush","spacing":0,"vconcat":[
     {"width":68,"height":28,"data":{"values":[{"s":"[O] Posttranslational\nmodification, protein\nturnover, chaperones"}]},"mark":{"type":"text","fontSize":5.7,"lineBreak":"\n","lineHeight":7,"dy":-7,"color":"#1A1A1A"},"encoding":{"text":{"field":"s","type":"nominal"}},"view":{"fill":"#D9D9D9","stroke":"#666"}},
     {"width":68,"height":50,"data":{"name":"b"},"transform":[{"filter":"datum.p=='O'"}],
      "encoding":{"x":{"field":"c","type":"nominal","scale":{"domain":["HC","ICP","PID"],"paddingInner":0,"paddingOuter":0.1},"axis":{"title":null,"labels":false,"ticks":false}},"xOffset":{"field":"t","type":"nominal","scale":{"domain":["Pre-Dose","Acute","Late"],"paddingInner":0,"paddingOuter":0.5}}},
      "layer":[
       {"mark":{"type":"bar","width":5},"encoding":{"y":{"field":"lo","type":"quantitative","scale":{"zero":false,"nice":false,"padding":3},"axis":{"title":null,"values":[0.035,0.040],"format":".3f","labelOverlap":false,"tickCount":20,"labelFontSize":6,"tickSize":2,"labelPadding":1,"minExtent":21.5,"maxExtent":21.5}},"y2":{"field":"hi"},"fill":{"field":"t","type":"nominal"}}},
       {"mark":{"type":"circle","size":22,"opacity":1},"encoding":{"y":{"field":"lo","type":"quantitative"},"fill":{"field":"t","type":"nominal"}}},
       {"mark":{"type":"circle","size":22,"opacity":1},"encoding":{"y":{"field":"hi","type":"quantitative"},"fill":{"field":"t","type":"nominal"}}}
      ]}
    ]},
    {"bounds":"flush","spacing":0,"vconcat":[
     {"width":68,"height":28,"data":{"values":[{"s":"[T] Signal transduction\nmechanisms"}]},"mark":{"type":"text","fontSize":5.7,"lineBreak":"\n","lineHeight":7,"dy":-3.5,"color":"#1A1A1A"},"encoding":{"text":{"field":"s","type":"nominal"}},"view":{"fill":"#D9D9D9","stroke":"#666"}},
     {"width":68,"height":50,"data":{"name":"b"},"transform":[{"filter":"datum.p=='T'"}],
      "encoding":{"x":{"field":"c","type":"nominal","scale":{"domain":["HC","ICP","PID"],"paddingInner":0,"paddingOuter":0.1},"axis":{"title":null,"labels":false,"ticks":false}},"xOffset":{"field":"t","type":"nominal","scale":{"domain":["Pre-Dose","Acute","Late"],"paddingInner":0,"paddingOuter":0.5}}},
      "layer":[
       {"mark":{"type":"bar","width":5},"encoding":{"y":{"field":"lo","type":"quantitative","scale":{"zero":false,"nice":false,"padding":3},"axis":{"title":null,"values":[0.050,0.055,0.060,0.065],"format":".3f","labelOverlap":false,"tickCount":20,"labelFontSize":6,"tickSize":2,"labelPadding":1,"minExtent":21.5,"maxExtent":21.5}},"y2":{"field":"hi"},"fill":{"field":"t","type":"nominal"}}},
       {"mark":{"type":"circle","size":22,"opacity":1},"encoding":{"y":{"field":"lo","type":"quantitative"},"fill":{"field":"t","type":"nominal"}}},
       {"mark":{"type":"circle","size":22,"opacity":1},"encoding":{"y":{"field":"hi","type":"quantitative"},"fill":{"field":"t","type":"nominal"}}}
      ]}
    ]},
    {"bounds":"flush","spacing":0,"vconcat":[
     {"width":68,"height":28,"data":{"values":[{"s":"[U] Intracellular\ntrafficking, secretion,\nand vesicular transport"}]},"mark":{"type":"text","fontSize":5.7,"lineBreak":"\n","lineHeight":7,"dy":-7,"color":"#1A1A1A"},"encoding":{"text":{"field":"s","type":"nominal"}},"view":{"fill":"#D9D9D9","stroke":"#666"}},
     {"width":68,"height":50,"data":{"name":"b"},"transform":[{"filter":"datum.p=='U'"}],
      "encoding":{"x":{"field":"c","type":"nominal","scale":{"domain":["HC","ICP","PID"],"paddingInner":0,"paddingOuter":0.1},"axis":{"title":null,"labels":false,"ticks":false}},"xOffset":{"field":"t","type":"nominal","scale":{"domain":["Pre-Dose","Acute","Late"],"paddingInner":0,"paddingOuter":0.5}}},
      "layer":[
       {"mark":{"type":"bar","width":5},"encoding":{"y":{"field":"lo","type":"quantitative","scale":{"zero":false,"nice":false,"padding":3},"axis":{"title":null,"values":[0.017,0.019,0.021,0.023,0.025],"format":".3f","labelOverlap":false,"tickCount":20,"labelFontSize":6,"tickSize":2,"labelPadding":1,"minExtent":21.5,"maxExtent":21.5}},"y2":{"field":"hi"},"fill":{"field":"t","type":"nominal"}}},
       {"mark":{"type":"circle","size":22,"opacity":1},"encoding":{"y":{"field":"lo","type":"quantitative"},"fill":{"field":"t","type":"nominal"}}},
       {"mark":{"type":"circle","size":22,"opacity":1},"encoding":{"y":{"field":"hi","type":"quantitative"},"fill":{"field":"t","type":"nominal"}}}
      ]}
    ]},
    {"bounds":"flush","spacing":0,"vconcat":[
     {"width":68,"height":28,"data":{"values":[{"s":"[V] Defense mechanisms"}]},"mark":{"type":"text","fontSize":5.7,"color":"#1A1A1A"},"encoding":{"text":{"field":"s","type":"nominal"}},"view":{"fill":"#D9D9D9","stroke":"#666"}},
     {"width":68,"height":50,"data":{"name":"b"},"transform":[{"filter":"datum.p=='V'"}],
      "encoding":{"x":{"field":"c","type":"nominal","scale":{"domain":["HC","ICP","PID"],"paddingInner":0,"paddingOuter":0.1},"axis":{"title":null,"labels":false,"ticks":false}},"xOffset":{"field":"t","type":"nominal","scale":{"domain":["Pre-Dose","Acute","Late"],"paddingInner":0,"paddingOuter":0.5}}},
      "layer":[
       {"mark":{"type":"bar","width":5},"encoding":{"y":{"field":"lo","type":"quantitative","scale":{"zero":false,"nice":false,"padding":3},"axis":{"title":null,"values":[0.040,0.045,0.050,0.055],"format":".3f","labelOverlap":false,"tickCount":20,"labelFontSize":6,"tickSize":2,"labelPadding":1,"minExtent":21.5,"maxExtent":21.5}},"y2":{"field":"hi"},"fill":{"field":"t","type":"nominal"}}},
       {"mark":{"type":"circle","size":22,"opacity":1},"encoding":{"y":{"field":"lo","type":"quantitative"},"fill":{"field":"t","type":"nominal"}}},
       {"mark":{"type":"circle","size":22,"opacity":1},"encoding":{"y":{"field":"hi","type":"quantitative"},"fill":{"field":"t","type":"nominal"}}}
      ]}
    ]},
    {"bounds":"flush","spacing":0,"vconcat":[
     {"width":68,"height":28,"data":{"values":[{"s":"[W] Extracellular\nstructures"}]},"mark":{"type":"text","fontSize":5.7,"lineBreak":"\n","lineHeight":7,"dy":-3.5,"color":"#1A1A1A"},"encoding":{"text":{"field":"s","type":"nominal"}},"view":{"fill":"#D9D9D9","stroke":"#666"}},
     {"width":68,"height":50,"data":{"name":"b"},"transform":[{"filter":"datum.p=='W'"}],
      "encoding":{"x":{"field":"c","type":"nominal","scale":{"domain":["HC","ICP","PID"],"paddingInner":0,"paddingOuter":0.1},"axis":{"title":null,"labels":false,"ticks":false}},"xOffset":{"field":"t","type":"nominal","scale":{"domain":["Pre-Dose","Acute","Late"],"paddingInner":0,"paddingOuter":0.5}}},
      "layer":[
       {"mark":{"type":"bar","width":5},"encoding":{"y":{"field":"lo","type":"quantitative","scale":{"zero":false,"nice":false,"padding":3},"axis":{"title":null,"values":[0,0.001,0.002],"format":".3f","labelOverlap":false,"tickCount":20,"labelFontSize":6,"tickSize":2,"labelPadding":1,"minExtent":21.5,"maxExtent":21.5}},"y2":{"field":"hi"},"fill":{"field":"t","type":"nominal"}}},
       {"mark":{"type":"circle","size":22,"opacity":1},"encoding":{"y":{"field":"lo","type":"quantitative"},"fill":{"field":"t","type":"nominal"}}},
       {"mark":{"type":"circle","size":22,"opacity":1},"encoding":{"y":{"field":"hi","type":"quantitative"},"fill":{"field":"t","type":"nominal"}}}
      ]}
    ]},
    {"bounds":"flush","spacing":0,"vconcat":[
     {"width":68,"height":28,"data":{"values":[{"s":"[Z] Cytoskeleton"}]},"mark":{"type":"text","fontSize":5.7,"color":"#1A1A1A"},"encoding":{"text":{"field":"s","type":"nominal"}},"view":{"fill":"#D9D9D9","stroke":"#666"}},
     {"width":68,"height":50,"data":{"name":"b"},"transform":[{"filter":"datum.p=='Z'"}],
      "encoding":{"x":{"field":"c","type":"nominal","scale":{"domain":["HC","ICP","PID"],"paddingInner":0,"paddingOuter":0.1},"axis":{"title":null,"labelAngle":0,"labelFontSize":6,"tickSize":2,"labelPadding":1}},"xOffset":{"field":"t","type":"nominal","scale":{"domain":["Pre-Dose","Acute","Late"],"paddingInner":0,"paddingOuter":0.5}}},
      "layer":[
       {"mark":{"type":"bar","width":5},"encoding":{"y":{"field":"lo","type":"quantitative","scale":{"zero":false,"nice":false,"padding":3},"axis":{"title":null,"values":[0.0001,0.0002,0.0003,0.0004,0.0005],"labelExpr":"replace(format(datum.value, '.0e'), 'e-', 'e-0')","labelOverlap":false,"tickCount":20,"labelFontSize":6,"tickSize":2,"labelPadding":1,"minExtent":21.5,"maxExtent":21.5}},"y2":{"field":"hi"},"fill":{"field":"t","type":"nominal"}}},
       {"mark":{"type":"circle","size":22,"opacity":1},"encoding":{"y":{"field":"lo","type":"quantitative"},"fill":{"field":"t","type":"nominal"}}},
       {"mark":{"type":"circle","size":22,"opacity":1},"encoding":{"y":{"field":"hi","type":"quantitative"},"fill":{"field":"t","type":"nominal"}}}
      ]}
    ]}
   ]},
   {"spacing":0,"vconcat":[
   {"spacing":0,"hconcat":[
    {"width":25,"height":75,"data":{"values":[{"s":"Metabolism"}]},"mark":{"type":"text","angle":270,"fontSize":8.5,"color":"#1A1A1A"},"encoding":{"text":{"field":"s","type":"nominal"}},"view":{"fill":"#D9D9D9","stroke":"#666"}},
    {"bounds":"flush","spacing":0,"vconcat":[
     {"width":68.5,"height":25,"data":{"values":[{"s":"[C] Energy production\nand conversion"}]},"mark":{"type":"text","fontSize":5.7,"lineBreak":"\n","lineHeight":7,"dy":-3.5,"color":"#1A1A1A"},"encoding":{"text":{"field":"s","type":"nominal"}},"view":{"fill":"#D9D9D9","stroke":"#666"}},
     {"width":68.5,"height":50,"data":{"name":"b"},"transform":[{"filter":"datum.p=='C'"}],
      "encoding":{"x":{"field":"c","type":"nominal","scale":{"domain":["HC","ICP","PID"],"paddingInner":0,"paddingOuter":0.1},"axis":{"title":null,"labels":false,"ticks":false}},"xOffset":{"field":"t","type":"nominal","scale":{"domain":["Pre-Dose","Acute","Late"],"paddingInner":0,"paddingOuter":0.5}}},
      "layer":[
       {"mark":{"type":"bar","width":5},"encoding":{"y":{"field":"lo","type":"quantitative","scale":{"zero":false,"nice":false,"padding":3},"axis":{"title":null,"values":[0.065,0.070,0.075,0.080,0.085,0.090],"format":".3f","labelOverlap":false,"tickCount":20,"labelFontSize":6,"tickSize":2,"labelPadding":1,"minExtent":21.5,"maxExtent":21.5}},"y2":{"field":"hi"},"fill":{"field":"t","type":"nominal"}}},
       {"mark":{"type":"circle","size":22,"opacity":1},"encoding":{"y":{"field":"lo","type":"quantitative"},"fill":{"field":"t","type":"nominal"}}},
       {"mark":{"type":"circle","size":22,"opacity":1},"encoding":{"y":{"field":"hi","type":"quantitative"},"fill":{"field":"t","type":"nominal"}}}
      ]}
    ]},
    {"bounds":"flush","spacing":0,"vconcat":[
     {"width":68.5,"height":25,"data":{"values":[{"s":"[F] Nucleotide transport\nand metabolism"}]},"mark":{"type":"text","fontSize":5.7,"lineBreak":"\n","lineHeight":7,"dy":-3.5,"color":"#1A1A1A"},"encoding":{"text":{"field":"s","type":"nominal"}},"view":{"fill":"#D9D9D9","stroke":"#666"}},
     {"width":68.5,"height":50,"data":{"name":"b"},"transform":[{"filter":"datum.p=='F'"}],
      "encoding":{"x":{"field":"c","type":"nominal","scale":{"domain":["HC","ICP","PID"],"paddingInner":0,"paddingOuter":0.1},"axis":{"title":null,"labels":false,"ticks":false}},"xOffset":{"field":"t","type":"nominal","scale":{"domain":["Pre-Dose","Acute","Late"],"paddingInner":0,"paddingOuter":0.5}}},
      "layer":[
       {"mark":{"type":"bar","width":5},"encoding":{"y":{"field":"lo","type":"quantitative","scale":{"zero":false,"nice":false,"padding":3},"axis":{"title":null,"values":[0.036,0.038,0.040,0.042,0.044],"format":".3f","labelOverlap":false,"tickCount":20,"labelFontSize":6,"tickSize":2,"labelPadding":1,"minExtent":21.5,"maxExtent":21.5}},"y2":{"field":"hi"},"fill":{"field":"t","type":"nominal"}}},
       {"mark":{"type":"circle","size":22,"opacity":1},"encoding":{"y":{"field":"lo","type":"quantitative"},"fill":{"field":"t","type":"nominal"}}},
       {"mark":{"type":"circle","size":22,"opacity":1},"encoding":{"y":{"field":"hi","type":"quantitative"},"fill":{"field":"t","type":"nominal"}}}
      ]}
    ]},
    {"bounds":"flush","spacing":0,"vconcat":[
     {"width":68.5,"height":25,"data":{"values":[{"s":"[G] Carbohydrate\ntransport and metabolism"}]},"mark":{"type":"text","fontSize":5.7,"lineBreak":"\n","lineHeight":7,"dy":-3.5,"color":"#1A1A1A"},"encoding":{"text":{"field":"s","type":"nominal"}},"view":{"fill":"#D9D9D9","stroke":"#666"}},
     {"width":68.5,"height":50,"data":{"name":"b"},"transform":[{"filter":"datum.p=='G'"}],
      "encoding":{"x":{"field":"c","type":"nominal","scale":{"domain":["HC","ICP","PID"],"paddingInner":0,"paddingOuter":0.1},"axis":{"title":null,"labels":false,"ticks":false}},"xOffset":{"field":"t","type":"nominal","scale":{"domain":["Pre-Dose","Acute","Late"],"paddingInner":0,"paddingOuter":0.5}}},
      "layer":[
       {"mark":{"type":"bar","width":5},"encoding":{"y":{"field":"lo","type":"quantitative","scale":{"zero":false,"nice":false,"padding":3},"axis":{"title":null,"values":[0.10,0.11,0.12,0.13],"format":".2f","labelOverlap":false,"tickCount":20,"labelFontSize":6,"tickSize":2,"labelPadding":1,"minExtent":21.5,"maxExtent":21.5}},"y2":{"field":"hi"},"fill":{"field":"t","type":"nominal"}}},
       {"mark":{"type":"circle","size":22,"opacity":1},"encoding":{"y":{"field":"lo","type":"quantitative"},"fill":{"field":"t","type":"nominal"}}},
       {"mark":{"type":"circle","size":22,"opacity":1},"encoding":{"y":{"field":"hi","type":"quantitative"},"fill":{"field":"t","type":"nominal"}}}
      ]}
    ]},
    {"bounds":"flush","spacing":0,"vconcat":[
     {"width":68.5,"height":25,"data":{"values":[{"s":"[H] Coenzyme transport\nand metabolism"}]},"mark":{"type":"text","fontSize":5.7,"lineBreak":"\n","lineHeight":7,"dy":-3.5,"color":"#1A1A1A"},"encoding":{"text":{"field":"s","type":"nominal"}},"view":{"fill":"#D9D9D9","stroke":"#666"}},
     {"width":68.5,"height":50,"data":{"name":"b"},"transform":[{"filter":"datum.p=='H'"}],
      "encoding":{"x":{"field":"c","type":"nominal","scale":{"domain":["HC","ICP","PID"],"paddingInner":0,"paddingOuter":0.1},"axis":{"title":null,"labels":false,"ticks":false}},"xOffset":{"field":"t","type":"nominal","scale":{"domain":["Pre-Dose","Acute","Late"],"paddingInner":0,"paddingOuter":0.5}}},
      "layer":[
       {"mark":{"type":"bar","width":5},"encoding":{"y":{"field":"lo","type":"quantitative","scale":{"zero":false,"nice":false,"padding":3},"axis":{"title":null,"values":[0.0275,0.0300,0.0325,0.0350],"format":".4f","labelOverlap":false,"tickCount":20,"labelFontSize":6,"tickSize":2,"labelPadding":1,"minExtent":21.5,"maxExtent":21.5}},"y2":{"field":"hi"},"fill":{"field":"t","type":"nominal"}}},
       {"mark":{"type":"circle","size":22,"opacity":1},"encoding":{"y":{"field":"lo","type":"quantitative"},"fill":{"field":"t","type":"nominal"}}},
       {"mark":{"type":"circle","size":22,"opacity":1},"encoding":{"y":{"field":"hi","type":"quantitative"},"fill":{"field":"t","type":"nominal"}}}
      ]}
    ]},
    {"bounds":"flush","spacing":0,"vconcat":[
     {"width":68.5,"height":25,"data":{"values":[{"s":"[I] Lipid transport and\nmetabolism"}]},"mark":{"type":"text","fontSize":5.7,"lineBreak":"\n","lineHeight":7,"dy":-3.5,"color":"#1A1A1A"},"encoding":{"text":{"field":"s","type":"nominal"}},"view":{"fill":"#D9D9D9","stroke":"#666"}},
     {"width":68.5,"height":50,"data":{"name":"b"},"transform":[{"filter":"datum.p=='I'"}],
      "encoding":{"x":{"field":"c","type":"nominal","scale":{"domain":["HC","ICP","PID"],"paddingInner":0,"paddingOuter":0.1},"axis":{"title":null,"labelAngle":0,"labelFontSize":6,"tickSize":2,"labelPadding":1}},"xOffset":{"field":"t","type":"nominal","scale":{"domain":["Pre-Dose","Acute","Late"],"paddingInner":0,"paddingOuter":0.5}}},
      "layer":[
       {"mark":{"type":"bar","width":5},"encoding":{"y":{"field":"lo","type":"quantitative","scale":{"zero":false,"nice":false,"padding":3},"axis":{"title":null,"values":[0.020,0.022,0.024,0.026],"format":".3f","labelOverlap":false,"tickCount":20,"labelFontSize":6,"tickSize":2,"labelPadding":1,"minExtent":21.5,"maxExtent":21.5}},"y2":{"field":"hi"},"fill":{"field":"t","type":"nominal"}}},
       {"mark":{"type":"circle","size":22,"opacity":1},"encoding":{"y":{"field":"lo","type":"quantitative"},"fill":{"field":"t","type":"nominal"}}},
       {"mark":{"type":"circle","size":22,"opacity":1},"encoding":{"y":{"field":"hi","type":"quantitative"},"fill":{"field":"t","type":"nominal"}}}
      ]}
    ]},
    {"bounds":"flush","spacing":0,"vconcat":[
     {"width":68.5,"height":25,"data":{"values":[{"s":"[P] Inorganic ion\ntransport and metabolism"}]},"mark":{"type":"text","fontSize":5.7,"lineBreak":"\n","lineHeight":7,"dy":-3.5,"color":"#1A1A1A"},"encoding":{"text":{"field":"s","type":"nominal"}},"view":{"fill":"#D9D9D9","stroke":"#666"}},
     {"width":68.5,"height":50,"data":{"name":"b"},"transform":[{"filter":"datum.p=='P'"}],
      "encoding":{"x":{"field":"c","type":"nominal","scale":{"domain":["HC","ICP","PID"],"paddingInner":0,"paddingOuter":0.1},"axis":{"title":null,"labelAngle":0,"labelFontSize":6,"tickSize":2,"labelPadding":1}},"xOffset":{"field":"t","type":"nominal","scale":{"domain":["Pre-Dose","Acute","Late"],"paddingInner":0,"paddingOuter":0.5}}},
      "layer":[
       {"mark":{"type":"bar","width":5},"encoding":{"y":{"field":"lo","type":"quantitative","scale":{"zero":false,"nice":false,"padding":3},"axis":{"title":null,"values":[0.07,0.08,0.09,0.10],"format":".2f","labelOverlap":false,"tickCount":20,"labelFontSize":6,"tickSize":2,"labelPadding":1,"minExtent":21.5,"maxExtent":21.5}},"y2":{"field":"hi"},"fill":{"field":"t","type":"nominal"}}},
       {"mark":{"type":"circle","size":22,"opacity":1},"encoding":{"y":{"field":"lo","type":"quantitative"},"fill":{"field":"t","type":"nominal"}}},
       {"mark":{"type":"circle","size":22,"opacity":1},"encoding":{"y":{"field":"hi","type":"quantitative"},"fill":{"field":"t","type":"nominal"}}}
      ]}
    ]},
    {"bounds":"flush","spacing":0,"vconcat":[
     {"width":68.5,"height":25,"data":{"values":[{"s":"[Q] Secondary\nmetabolites\nbiosynthesis, transport\nand catabolism"}]},"mark":{"type":"text","fontSize":5.7,"lineBreak":"\n","lineHeight":6.1,"dy":-9.1,"color":"#1A1A1A"},"encoding":{"text":{"field":"s","type":"nominal"}},"view":{"fill":"#D9D9D9","stroke":"#666"}},
     {"width":68.5,"height":50,"data":{"name":"b"},"transform":[{"filter":"datum.p=='Q'"}],
      "encoding":{"x":{"field":"c","type":"nominal","scale":{"domain":["HC","ICP","PID"],"paddingInner":0,"paddingOuter":0.1},"axis":{"title":null,"labelAngle":0,"labelFontSize":6,"tickSize":2,"labelPadding":1}},"xOffset":{"field":"t","type":"nominal","scale":{"domain":["Pre-Dose","Acute","Late"],"paddingInner":0,"paddingOuter":0.5}}},
      "layer":[
       {"mark":{"type":"bar","width":5},"encoding":{"y":{"field":"lo","type":"quantitative","scale":{"zero":false,"nice":false,"padding":3},"axis":{"title":null,"values":[0.006,0.007,0.008,0.009],"format":".3f","labelOverlap":false,"tickCount":20,"labelFontSize":6,"tickSize":2,"labelPadding":1,"minExtent":21.5,"maxExtent":21.5}},"y2":{"field":"hi"},"fill":{"field":"t","type":"nominal"}}},
       {"mark":{"type":"circle","size":22,"opacity":1},"encoding":{"y":{"field":"lo","type":"quantitative"},"fill":{"field":"t","type":"nominal"}}},
       {"mark":{"type":"circle","size":22,"opacity":1},"encoding":{"y":{"field":"hi","type":"quantitative"},"fill":{"field":"t","type":"nominal"}}}
      ]}
    ]}
   ]},
   {"spacing":0,"hconcat":[
    {"width":25,"height":75,"data":{"values":[{"s":"Information Storage\nand Processing"}]},"mark":{"type":"text","angle":270,"fontSize":8.5,"lineBreak":"\n","lineHeight":10,"dy":-5,"color":"#1A1A1A"},"encoding":{"text":{"field":"s","type":"nominal"}},"view":{"fill":"#D9D9D9","stroke":"#666"}},
    {"bounds":"flush","spacing":0,"vconcat":[
     {"width":68.5,"height":23,"data":{"values":[{"s":"[A] RNA processing and\nmodification"}]},"mark":{"type":"text","fontSize":5.7,"lineBreak":"\n","lineHeight":7,"dy":-3.5,"color":"#1A1A1A"},"encoding":{"text":{"field":"s","type":"nominal"}},"view":{"fill":"#D9D9D9","stroke":"#666"}},
     {"width":68.5,"height":52,"data":{"name":"b"},"transform":[{"filter":"datum.p=='A'"}],
      "encoding":{"x":{"field":"c","type":"nominal","scale":{"domain":["HC","ICP","PID"],"paddingInner":0,"paddingOuter":0.1},"axis":{"title":null,"labelAngle":0,"labelFontSize":6,"tickSize":2,"labelPadding":1}},"xOffset":{"field":"t","type":"nominal","scale":{"domain":["Pre-Dose","Acute","Late"],"paddingInner":0,"paddingOuter":0.5}}},
      "layer":[
       {"mark":{"type":"bar","width":5},"encoding":{"y":{"field":"lo","type":"quantitative","scale":{"zero":false,"nice":false,"padding":3},"axis":{"title":null,"values":[0.0001,0.0002,0.0003],"labelExpr":"replace(format(datum.value, '.0e'), 'e-', 'e-0')","labelOverlap":false,"tickCount":20,"labelFontSize":6,"tickSize":2,"labelPadding":1,"minExtent":21.5,"maxExtent":21.5}},"y2":{"field":"hi"},"fill":{"field":"t","type":"nominal"}}},
       {"mark":{"type":"circle","size":22,"opacity":1},"encoding":{"y":{"field":"lo","type":"quantitative"},"fill":{"field":"t","type":"nominal"}}},
       {"mark":{"type":"circle","size":22,"opacity":1},"encoding":{"y":{"field":"hi","type":"quantitative"},"fill":{"field":"t","type":"nominal"}}}
      ]}
    ]},
    {"bounds":"flush","spacing":0,"vconcat":[
     {"width":68.5,"height":23,"data":{"values":[{"s":"[B] Chromatin structure\nand dynamics"}]},"mark":{"type":"text","fontSize":5.7,"lineBreak":"\n","lineHeight":7,"dy":-3.5,"color":"#1A1A1A"},"encoding":{"text":{"field":"s","type":"nominal"}},"view":{"fill":"#D9D9D9","stroke":"#666"}},
     {"width":68.5,"height":52,"data":{"name":"b"},"transform":[{"filter":"datum.p=='B'"}],
      "encoding":{"x":{"field":"c","type":"nominal","scale":{"domain":["HC","ICP","PID"],"paddingInner":0,"paddingOuter":0.1},"axis":{"title":null,"labelAngle":0,"labelFontSize":6,"tickSize":2,"labelPadding":1}},"xOffset":{"field":"t","type":"nominal","scale":{"domain":["Pre-Dose","Acute","Late"],"paddingInner":0,"paddingOuter":0.5}}},
      "layer":[
       {"mark":{"type":"bar","width":5},"encoding":{"y":{"field":"lo","type":"quantitative","scale":{"zero":false,"nice":false,"padding":3},"axis":{"title":null,"values":[0.0001,0.0002,0.0003],"labelExpr":"replace(format(datum.value, '.0e'), 'e-', 'e-0')","labelOverlap":false,"tickCount":20,"labelFontSize":6,"tickSize":2,"labelPadding":1,"minExtent":21.5,"maxExtent":21.5}},"y2":{"field":"hi"},"fill":{"field":"t","type":"nominal"}}},
       {"mark":{"type":"circle","size":22,"opacity":1},"encoding":{"y":{"field":"lo","type":"quantitative"},"fill":{"field":"t","type":"nominal"}}},
       {"mark":{"type":"circle","size":22,"opacity":1},"encoding":{"y":{"field":"hi","type":"quantitative"},"fill":{"field":"t","type":"nominal"}}}
      ]}
    ]},
    {"bounds":"flush","spacing":0,"vconcat":[
     {"width":68.5,"height":23,"data":{"values":[{"s":"[J] Translation,\nribosomal structure and\nbiogenesis"}]},"mark":{"type":"text","fontSize":5.7,"lineBreak":"\n","lineHeight":6.3,"dy":-6.3,"color":"#1A1A1A"},"encoding":{"text":{"field":"s","type":"nominal"}},"view":{"fill":"#D9D9D9","stroke":"#666"}},
     {"width":68.5,"height":52,"data":{"name":"b"},"transform":[{"filter":"datum.p=='J'"}],
      "encoding":{"x":{"field":"c","type":"nominal","scale":{"domain":["HC","ICP","PID"],"paddingInner":0,"paddingOuter":0.1},"axis":{"title":null,"labelAngle":0,"labelFontSize":6,"tickSize":2,"labelPadding":1}},"xOffset":{"field":"t","type":"nominal","scale":{"domain":["Pre-Dose","Acute","Late"],"paddingInner":0,"paddingOuter":0.5}}},
      "layer":[
       {"mark":{"type":"bar","width":5},"encoding":{"y":{"field":"lo","type":"quantitative","scale":{"zero":false,"nice":false,"padding":3},"axis":{"title":null,"values":[0.060,0.065,0.070],"format":".3f","labelOverlap":false,"tickCount":20,"labelFontSize":6,"tickSize":2,"labelPadding":1,"minExtent":21.5,"maxExtent":21.5}},"y2":{"field":"hi"},"fill":{"field":"t","type":"nominal"}}},
       {"mark":{"type":"circle","size":22,"opacity":1},"encoding":{"y":{"field":"lo","type":"quantitative"},"fill":{"field":"t","type":"nominal"}}},
       {"mark":{"type":"circle","size":22,"opacity":1},"encoding":{"y":{"field":"hi","type":"quantitative"},"fill":{"field":"t","type":"nominal"}}}
      ]}
    ]},
    {"bounds":"flush","spacing":0,"vconcat":[
     {"width":68.5,"height":23,"data":{"values":[{"s":"[K] Transcription"}]},"mark":{"type":"text","fontSize":5.7,"color":"#1A1A1A"},"encoding":{"text":{"field":"s","type":"nominal"}},"view":{"fill":"#D9D9D9","stroke":"#666"}},
     {"width":68.5,"height":52,"data":{"name":"b"},"transform":[{"filter":"datum.p=='K'"}],
      "encoding":{"x":{"field":"c","type":"nominal","scale":{"domain":["HC","ICP","PID"],"paddingInner":0,"paddingOuter":0.1},"axis":{"title":null,"labelAngle":0,"labelFontSize":6,"tickSize":2,"labelPadding":1}},"xOffset":{"field":"t","type":"nominal","scale":{"domain":["Pre-Dose","Acute","Late"],"paddingInner":0,"paddingOuter":0.5}}},
      "layer":[
       {"mark":{"type":"bar","width":5},"encoding":{"y":{"field":"lo","type":"quantitative","scale":{"zero":false,"nice":false,"padding":3},"axis":{"title":null,"values":[0.055,0.060,0.065,0.070,0.075,0.080],"format":".3f","labelOverlap":false,"tickCount":20,"labelFontSize":6,"tickSize":2,"labelPadding":1,"minExtent":21.5,"maxExtent":21.5}},"y2":{"field":"hi"},"fill":{"field":"t","type":"nominal"}}},
       {"mark":{"type":"circle","size":22,"opacity":1},"encoding":{"y":{"field":"lo","type":"quantitative"},"fill":{"field":"t","type":"nominal"}}},
       {"mark":{"type":"circle","size":22,"opacity":1},"encoding":{"y":{"field":"hi","type":"quantitative"},"fill":{"field":"t","type":"nominal"}}}
      ]}
    ]}
   ]}
   ]}
  ]
 }]
}
]
}
